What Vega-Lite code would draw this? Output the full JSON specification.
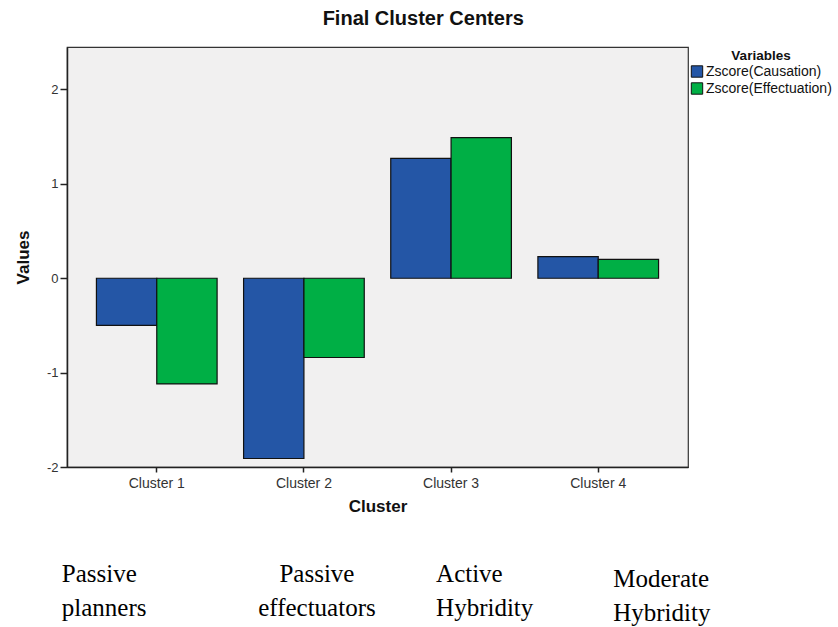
{
  "$schema": "https://vega.github.io/schema/vega-lite/v6.json",
  "autosize": {"type": "none"},
  "width": 621,
  "height": 420,
  "padding": {"left": 67, "top": 47, "right": 150, "bottom": 160},
  "background": "white",
  "title": {
    "text": "Final Cluster Centers",
    "frame": "bounds",
    "anchor": "middle",
    "font": "Liberation Sans",
    "fontSize": 20,
    "fontWeight": "bold",
    "color": "#111",
    "offset": 18
  },
  "config": {
    "view": {"fill": "#f1f0f0", "stroke": "#333", "strokeWidth": 1.2},
    "axis": {
      "labelFont": "Liberation Sans",
      "titleFont": "Liberation Sans",
      "domainColor": "#222",
      "tickColor": "#222",
      "domainWidth": 1.5,
      "tickWidth": 1.5,
      "grid": false
    },
    "legend": {
      "labelFont": "Liberation Sans",
      "titleFont": "Liberation Sans"
    }
  },
  "datasets": {
    "centers": [
      {"cluster": "Cluster 1", "variable": "Zscore(Causation)", "value": -0.5},
      {"cluster": "Cluster 1", "variable": "Zscore(Effectuation)", "value": -1.12},
      {"cluster": "Cluster 2", "variable": "Zscore(Causation)", "value": -1.91},
      {"cluster": "Cluster 2", "variable": "Zscore(Effectuation)", "value": -0.84},
      {"cluster": "Cluster 3", "variable": "Zscore(Causation)", "value": 1.27},
      {"cluster": "Cluster 3", "variable": "Zscore(Effectuation)", "value": 1.49},
      {"cluster": "Cluster 4", "variable": "Zscore(Causation)", "value": 0.23},
      {"cluster": "Cluster 4", "variable": "Zscore(Effectuation)", "value": 0.2}
    ],
    "notes": [
      {"cluster": "Cluster 1", "note": "Passive\nplanners"},
      {"cluster": "Cluster 2", "note": "Passive\neffectuators"},
      {"cluster": "Cluster 3", "note": "Active\nHybridity"},
      {"cluster": "Cluster 4", "note": "Moderate\nHybridity"}
    ]
  },
  "encoding": {
    "x": {
      "field": "cluster",
      "type": "nominal",
      "sort": ["Cluster 1", "Cluster 2", "Cluster 3", "Cluster 4"],
      "scale": {"paddingInner": 0.18, "paddingOuter": 0.2},
      "axis": {
        "title": "Cluster",
        "labelAngle": 0,
        "labelFontSize": 14,
        "labelColor": "#333",
        "labelPadding": 4,
        "tickSize": 5,
        "titleFontSize": 17,
        "titleFontWeight": "bold",
        "titleColor": "#111",
        "titlePadding": 8
      }
    }
  },
  "layer": [
    {
      "data": {"name": "centers"},
      "mark": {"type": "bar", "stroke": "#111", "strokeWidth": 1.2},
      "encoding": {
        "xOffset": {
          "field": "variable",
          "type": "nominal",
          "sort": ["Zscore(Causation)", "Zscore(Effectuation)"],
          "scale": {"paddingInner": 0, "paddingOuter": 0}
        },
        "y": {
          "field": "value",
          "type": "quantitative",
          "scale": {"domain": [-2, 2.45], "nice": false, "zero": false},
          "axis": {
            "title": "Values",
            "values": [-2, -1, 0, 1, 2],
            "labelExpr": "'' + datum.value",
            "labelFontSize": 13,
            "labelColor": "#333",
            "labelPadding": 2,
            "tickSize": 7,
            "titleFontSize": 17,
            "titleFontWeight": "bold",
            "titleColor": "#111",
            "titlePadding": 14
          }
        },
        "fill": {
          "field": "variable",
          "type": "nominal",
          "sort": ["Zscore(Causation)", "Zscore(Effectuation)"],
          "scale": {"range": ["#2456a6", "#00af45"]},
          "legend": {
            "title": "Variables",
            "orient": "none",
            "legendX": 623,
            "legendY": 2,
            "padding": 0,
            "titleAnchor": "middle",
            "titleFontSize": 13.5,
            "titleFontWeight": "bold",
            "titleColor": "#111",
            "titlePadding": 2,
            "labelFontSize": 14,
            "labelColor": "#111",
            "labelOffset": 2,
            "symbolType": "square",
            "symbolSize": 130,
            "symbolStrokeColor": "#111",
            "symbolStrokeWidth": 1,
            "rowPadding": 1
          }
        }
      }
    },
    {
      "data": {"name": "notes"},
      "transform": [{"filter": "datum.cluster == 'Cluster 1'"}],
      "mark": {"type": "text", "align": "left", "baseline": "alphabetic", "dx": -95, "font": "Liberation Serif", "fontSize": 25, "lineBreak": "\n", "lineHeight": 34, "color": "#000"},
      "encoding": {"y": {"datum": -3.22}, "text": {"field": "note"}}
    },
    {
      "data": {"name": "notes"},
      "transform": [{"filter": "datum.cluster == 'Cluster 2'"}],
      "mark": {"type": "text", "align": "center", "baseline": "alphabetic", "dx": 13, "font": "Liberation Serif", "fontSize": 25, "lineBreak": "\n", "lineHeight": 34, "color": "#000"},
      "encoding": {"y": {"datum": -3.22}, "text": {"field": "note"}}
    },
    {
      "data": {"name": "notes"},
      "transform": [{"filter": "datum.cluster == 'Cluster 3'"}],
      "mark": {"type": "text", "align": "left", "baseline": "alphabetic", "dx": -15, "font": "Liberation Serif", "fontSize": 25, "lineBreak": "\n", "lineHeight": 34, "color": "#000"},
      "encoding": {"y": {"datum": -3.22}, "text": {"field": "note"}}
    },
    {
      "data": {"name": "notes"},
      "transform": [{"filter": "datum.cluster == 'Cluster 4'"}],
      "mark": {"type": "text", "align": "left", "baseline": "alphabetic", "dx": 15, "dy": 5, "font": "Liberation Serif", "fontSize": 25, "lineBreak": "\n", "lineHeight": 34, "color": "#000"},
      "encoding": {"y": {"datum": -3.22}, "text": {"field": "note"}}
    }
  ]
}
